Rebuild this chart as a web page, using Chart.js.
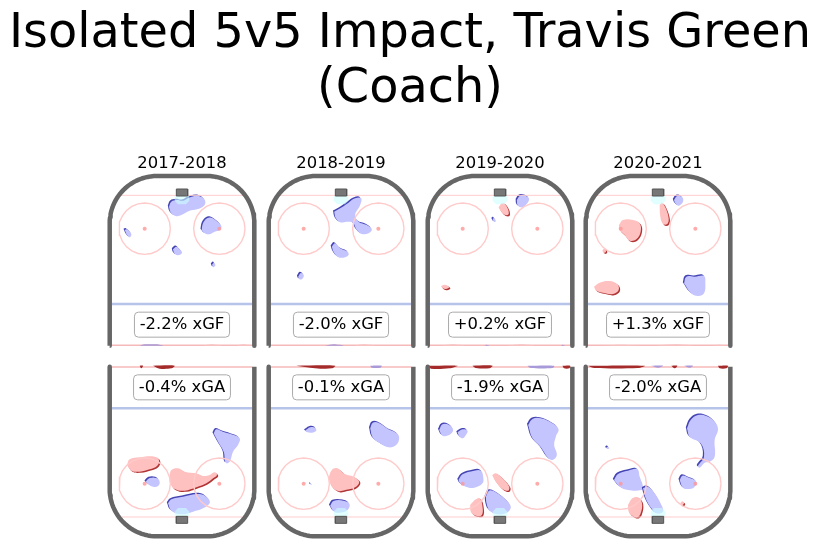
<!DOCTYPE html>
<html><head><meta charset="utf-8">
<style>html,body{margin:0;padding:0;background:#fff;width:820px;height:546px;overflow:hidden}canvas{position:absolute}canvas.soft{filter:blur(.55px)}</style>
<script src="https://cdn.jsdelivr.net/npm/chart.js@4"></script>
</head><body>
<script>
const seasons=['2017-2018','2018-2019','2019-2020','2020-2021'];
const xgfLabels=['-2.2% xGF','-2.0% xGF','+0.2% xGF','+1.3% xGF'];
const xgaLabels=['-0.4% xGA','-0.1% xGA','-1.9% xGA','-2.0% xGA'];
const chartTitle=['Isolated 5v5 Impact, Travis Green','(Coach)'];
// rink centre of each panel: page position and position in the rink-unit readings
const panelCentre=[182.3,341,499.6,658.2];
const readingCentre=[247,242.5,237.5,240];
// shot-rate contours: b blue, r red, R/P/S thin strips at centre ice
const offence2017=[
['b',[[208,170],[215,155],[232,150],[250,152],[268,143],[290,137],[308,142],[317,155],[312,168],[292,178],[268,183],[245,195],[228,198],[213,187]]],
['b',[[306,240],[310,220],[322,205],[335,203],[350,212],[365,228],[360,240],[345,245],[328,253],[315,250]]],
['b',[[75,240],[82,238],[95,252],[90,262],[82,255]]],
['b',[[220,298],[230,290],[240,298],[247,308],[235,316],[224,310]]],
['b',[[337,344],[343,338],[347,346],[341,352]]],
['P',[[120,587],[135,583],[170,583],[190,587]]],
['S',[[310,587],[335,583],[365,587]]],
['S',[[410,587],[430,583],[455,587]]]];
const defence2017=[
['R',[[120,77],[130,77],[125,85]]],
['R',[[160,77],[225,77],[215,85],[180,86]]],
['b',[[342,280],[350,268],[370,275],[395,283],[420,295],[415,315],[400,335],[390,365],[378,368],[372,335],[355,305]]],
['r',[[82,375],[90,358],[120,352],[165,350],[178,360],[172,378],[150,388],[120,395],[95,392]]],
['b',[[138,425],[150,414],[170,414],[180,425],[175,438],[160,440],[145,432]]],
['r',[[210,405],[215,390],[235,385],[255,395],[290,400],[310,408],[330,405],[345,397],[352,405],[340,415],[320,430],[290,442],[255,452],[225,447],[212,430]]],
['b',[[205,490],[215,478],[250,470],[300,462],[325,475],[330,490],[310,505],[280,515],[245,523],[215,512]]]];
const offence2018=[
['b',[[222,185],[245,172],[265,158],[285,145],[303,145],[300,165],[285,195],[295,215],[320,225],[335,238],[325,250],[305,252],[290,240],[278,218],[260,215],[240,217],[227,205]]],
['b',[[215,290],[225,280],[240,295],[262,305],[265,315],[250,323],[232,320],[220,305]]],
['b',[[114,380],[122,369],[131,376],[125,388],[117,387]]],
['P',[[195,587],[220,583],[250,587]]],
['S',[[280,587],[310,583],[345,587]]]];
const defence2018=[
['R',[[108,77],[225,77],[215,85],[180,86],[150,83]]],
['P',[[330,77],[365,77],[360,83],[335,83]]],
['b',[[135,272],[150,262],[165,263],[168,272],[155,278],[142,277]]],
['b',[[330,265],[338,248],[355,248],[385,268],[410,280],[417,295],[408,315],[385,322],[360,310],[338,293]]],
['r',[[205,415],[215,390],[232,385],[255,403],[280,410],[297,425],[285,442],[255,450],[235,453],[215,440]]],
['b',[[150,430],[155,433],[152,435]]],
['b',[[210,497],[220,483],[250,482],[268,492],[262,510],[240,518],[222,515]]]];
const offence2019=[
['b',[[288,150],[298,137],[315,138],[325,148],[312,168],[300,172],[290,165]]],
['r',[[233,172],[245,158],[258,170],[264,190],[258,196],[245,190]]],
['b',[[215,207],[220,204],[225,214],[220,216]]],
['r',[[60,408],[72,404],[85,412],[75,417],[65,414]]],
['S',[[60,587],[95,583],[130,587]]],
['S',[[260,587],[300,583],[340,587]]],
['P',[[190,587],[198,584],[205,587]]],
['P',[[420,587],[426,584],[432,587]]]];
const defence2019=[
['R',[[25,77],[110,77],[85,85],[30,86]]],
['R',[[155,77],[215,77],[205,85],[165,84]]],
['P',[[320,77],[400,77],[395,84],[330,84]]],
['R',[[425,77],[448,77],[445,85],[430,85]]],
['b',[[55,270],[65,253],[85,255],[97,270],[85,285],[65,287]]],
['b',[[110,277],[125,268],[140,272],[135,285],[125,295],[115,288]]],
['b',[[322,255],[335,237],[360,235],[395,250],[413,268],[405,290],[400,315],[408,345],[395,360],[380,352],[360,322],[335,295]]],
['b',[[113,420],[125,403],[160,392],[180,392],[187,410],[185,430],[160,443],[135,440],[118,430]]],
['r',[[214,405],[225,400],[245,415],[265,440],[262,452],[245,447],[225,425]]],
['r',[[148,495],[165,478],[177,475],[185,500],[183,525],[165,527],[150,515]]],
['b',[[195,470],[205,452],[225,457],[255,480],[270,502],[255,520],[225,522],[205,510],[197,490]]]];
const offence2020=[
['b',[[288,150],[298,138],[313,142],[315,155],[302,167],[292,160]]],
['r',[[245,165],[252,158],[262,172],[272,205],[268,222],[255,222],[247,200]]],
['r',[[123,225],[135,210],[165,210],[185,220],[188,245],[175,268],[155,272],[140,255],[125,240]]],
['r',[[73,302],[80,295],[84,305],[77,308]]],
['r',[[48,410],[65,398],[95,393],[118,403],[122,420],[105,432],[75,428],[55,422]]],
['b',[[318,400],[325,380],[350,380],[378,378],[382,400],[378,430],[360,438],[338,428]]],
['S',[[70,587],[130,584],[190,587]]],
['S',[[230,587],[290,583],[345,587]]],
['S',[[400,587],[425,584],[450,587]]]];
const defence2020=[
['R',[[30,77],[200,77],[180,84],[50,84]]],
['P',[[220,77],[255,77],[240,83]]],
['R',[[280,77],[298,77],[290,85]]],
['P',[[318,77],[345,77],[335,83]]],
['R',[[420,77],[450,77],[445,85],[425,85]]],
['b',[[327,265],[338,240],[360,225],[385,228],[410,245],[420,268],[410,300],[410,350],[395,365],[380,368],[365,383],[360,378],[378,350],[368,310],[335,290]]],
['b',[[85,323],[90,320],[94,325],[88,327]]],
['b',[[108,420],[120,402],[150,392],[178,388],[185,410],[195,440],[190,450],[150,450],[125,440]]],
['b',[[195,445],[210,440],[230,460],[250,495],[255,515],[235,520],[220,505],[205,480]]],
['r',[[150,495],[163,475],[180,472],[192,490],[188,520],[178,532],[160,525],[152,515]]],
['b',[[305,420],[313,407],[330,412],[355,425],[350,440],[335,447],[315,443]]],
['r',[[307,490],[313,484],[318,490],[312,496]]]];
const offenceBlobs=[offence2017,offence2018,offence2019,offence2020];
const defenceBlobs=[defence2017,defence2018,defence2019,defence2020];
// rink furniture in the same units, for the offensive end; the other end mirrors it
const MIRROR=667;
const boardX=217,cornerFlat=75,boardTop=78,boardEnd=587,cornerR=142;
const circleX=112,circleY=236,circleR=77;
const goalLineY=136,goalLineX=187,blueLineY=462,redLineY=586,iceX=211;
const netX=17,netTop=117,netBottom=138;
const creasePts=[[-22,138],[22,138],[22,152],[12,163],[-12,163],[-22,152]];

const FILL={b:'#c4c4ff',r:'#ffc0c0',R:'#a52a2a',P:'#a89ad8',S:'#f8c4c4'};
const DARK={b:'#4444b4',r:'#b03434'};
const SHIFT={b:-3.6,r:3.6};
const line=(pts,o)=>Object.assign({data:pts.map(([x,y])=>({x,y})),pointRadius:0,borderWidth:1,fill:false,tension:0},o);
function arc(cx,cy,r,a0,a1){const out=[];for(let i=0;i<=24;i++){const a=a0+(a1-a0)*i/24;out.push([cx+r*Math.cos(a),cy+r*Math.sin(a)]);}return out;}

function rink(end){
  const m=end==='top'?(y=>y):(y=>MIRROR-y);
  const M=p=>p.map(([x,y])=>[x,m(y)]);
  const ds=[];
  ds.push(line(M(creasePts),{fill:'shape',backgroundColor:'rgba(205,255,255,.6)',borderWidth:0}));
  ds.push(line(M([[-goalLineX,goalLineY],[goalLineX,goalLineY]]),{borderColor:'#ffcdcd',borderWidth:1}));
  ds.push(line(M([[-iceX,blueLineY],[iceX,blueLineY]]),{borderColor:'#b6c4ea',borderWidth:2.5}));
  ds.push(line(M([[-iceX,redLineY],[iceX,redLineY]]),{borderColor:'#f6b9b9',borderWidth:1.5}));
  for(const s of [-1,1]){
    ds.push(line(M(arc(s*circleX,circleY,circleR,0,Math.PI*2)),{borderColor:'#ffcaca',borderWidth:1.4}));
    ds.push(line(M([[s*circleX,circleY]]),{pointRadius:2,pointBackgroundColor:'rgba(255,150,150,.8)',pointBorderWidth:0,showLine:false}));
  }
  ds.push(line(M([[-netX,netTop],[netX,netTop],[netX,netBottom],[-netX,netBottom],[-netX,netTop]]),{fill:'shape',backgroundColor:'#777777',borderColor:'#555555',borderWidth:1}));
  const board=[[-boardX,boardEnd],...arc(-cornerFlat,boardTop+cornerR,cornerR,Math.PI,Math.PI*1.5),...arc(cornerFlat,boardTop+cornerR,cornerR,Math.PI*1.5,Math.PI*2),[boardX,boardEnd]];
  ds.push(line(M(board),{borderColor:'#666666',borderWidth:4.5,borderCapStyle:'butt',borderJoinStyle:'round'}));
  return ds;
}
function blobs(list,zc){
  const ds=[];
  for(const [k,pts] of list){
    if(!DARK[k])continue;
    const p=[...pts,pts[0]].map(([x,y])=>[x-zc,y]);
    const s=SHIFT[k];
    ds.push(line(p.map(([x,y])=>[x+s,y+s]),{fill:'shape',backgroundColor:DARK[k],borderWidth:0,tension:.4}));
    ds.push(line(p,{fill:'shape',backgroundColor:FILL[k],borderWidth:0,tension:.4}));
  }
  return ds;
}
function strips(list,zc){
  return list.filter(([k])=>!DARK[k]).map(([k,pts])=>line([...pts,pts[0]].map(([x,y])=>[x-zc,y]),{fill:'shape',backgroundColor:FILL[k],borderWidth:0,tension:.3}));
}
const textPlugin={id:'panelText',afterDraw(c){
  const o=c.options.plugins.panelText;if(!o)return;
  const g=c.ctx,X=c.scales.x,Y=c.scales.y;
  g.save();g.textAlign='center';g.textBaseline='middle';g.fillStyle='#000';
  g.font='16.4px "DejaVu Sans"';
  if(o.title)g.fillText(o.title,X.getPixelForValue(0),Y.getPixelForValue(o.titleY));
  const w=g.measureText(o.label).width+10.5,h=25,x=X.getPixelForValue(0),y=Y.getPixelForValue(o.labelY);
  g.beginPath();g.roundRect(x-w/2,y-h/2,w,h,4);g.fillStyle='#fff';g.fill();g.strokeStyle='#aaa';g.lineWidth=1;g.stroke();
  g.fillStyle='#000';g.fillText(o.label,x,y+.5);
  g.restore();
}};
function canvas(l,t,w,h,cls){const c=document.createElement('canvas');c.width=w;c.height=h;if(cls)c.className=cls;c.style.cssText=`left:${l}px;top:${t}px;width:${w}px;height:${h}px`;document.body.appendChild(c);return c;}
const baseOpts=text=>({responsive:false,animation:false,layout:{padding:0,autoPadding:false},
  scales:{x:{type:'linear',display:false,min:-270,max:270},y:{type:'linear',display:false,min:0,max:600,reverse:true}},
  plugins:{legend:{display:false},tooltip:{enabled:false},panelText:text}});
function panel(i,end){
  const top=end==='top',list=(top?offenceBlobs:defenceBlobs)[i],zc=readingCentre[i];
  const left=Math.round(panelCentre[i]-90),t=top?150:340;
  new Chart(canvas(left,t,180,200,'soft'),{type:'line',data:{datasets:blobs(list,zc).reverse()},options:baseOpts(null)});
  new Chart(canvas(left,t,180,200),{type:'line',data:{datasets:[...rink(end),...strips(list,zc)].reverse()},plugins:[textPlugin],
    options:baseOpts(top?{title:seasons[i],titleY:42,label:xgfLabels[i],labelY:524}:{label:xgaLabels[i],labelY:142})});
}
seasons.forEach((s,i)=>{panel(i,'top');panel(i,'bottom');});
new Chart(canvas(0,0,820,130),{type:'line',data:{datasets:[]},
  options:{responsive:false,animation:false,scales:{x:{display:false},y:{display:false}},
    plugins:{legend:{display:false},tooltip:{enabled:false},
      title:{display:true,text:chartTitle,color:'#000',font:{family:'DejaVu Sans',size:47.8,weight:'normal',lineHeight:1.15},padding:{top:7,bottom:0}}}}});
</script>
</body></html>
